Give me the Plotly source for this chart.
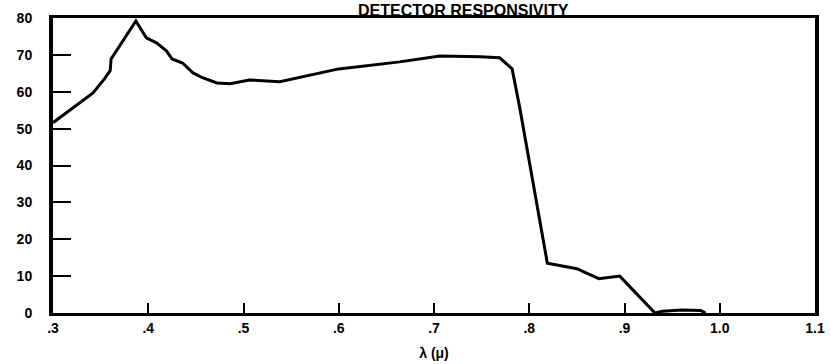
import plotly.graph_objects as go

# Detector responsivity versus wavelength (microns)
wavelength = [0.300, 0.342, 0.354, 0.360, 0.361, 0.387, 0.398, 0.409, 0.419, 0.425,
              0.436, 0.447, 0.457, 0.472, 0.486, 0.506, 0.538, 0.600, 0.664, 0.706,
              0.748, 0.769, 0.782, 0.790, 0.819, 0.830, 0.850, 0.873, 0.895, 0.932,
              0.940, 0.960, 0.980, 0.985]
responsivity = [51.6, 59.7, 63.5, 65.7, 68.9, 79.2, 74.6, 73.2, 71.1, 68.9,
                67.8, 65.1, 63.8, 62.4, 62.2, 63.2, 62.7, 66.2, 68.1, 69.7,
                69.5, 69.2, 66.2, 55.7, 13.5, 13.0, 12.0, 9.3, 10.0, 0.0,
                0.5, 0.8, 0.7, 0.0]

x_ticks = [0.3, 0.4, 0.5, 0.6, 0.7, 0.8, 0.9, 1.0, 1.1]
x_tick_labels = [".3", ".4", ".5", ".6", ".7", ".8", ".9", "1.0", "1.1"]
y_ticks = [0, 10, 20, 30, 40, 50, 60, 70, 80]
y_tick_labels = ["0", "10", "20", "30", "40", "50", "60", "70", "80"]

font_family = "Liberation Sans, Arial, sans-serif"

fig = go.Figure()
fig.add_trace(go.Scatter(
    x=wavelength, y=responsivity, mode="lines",
    line=dict(color="black", width=3), hoverinfo="skip", showlegend=False,
))

fig.update_layout(
    width=831, height=364,
    margin=dict(l=53, r=16, t=18, b=51),
    paper_bgcolor="white", plot_bgcolor="white",
    font=dict(family=font_family, color="black"),
    annotations=[dict(
        text="<b>DETECTOR RESPONSIVITY</b>",
        xref="paper", yref="paper", x=0.539, y=1,
        xanchor="center", yanchor="middle", yshift=7.5,
        showarrow=False, font=dict(size=16, family=font_family, color="black"),
    )],
)

fig.update_xaxes(
    range=[0.3, 1.1], tickvals=x_ticks, ticktext=x_tick_labels,
    ticks="inside", ticklen=10, tickwidth=2, tickcolor="black",
    showline=True, linewidth=3, linecolor="black", mirror=True,
    showgrid=False, zeroline=False, automargin=False,
    tickfont=dict(size=14, family=font_family, weight="bold"),
    title=dict(text="λ (μ)", font=dict(size=14, family=font_family, weight="bold"), standoff=14),
)
fig.update_yaxes(
    range=[0, 80], tickvals=y_ticks, ticktext=y_tick_labels,
    ticks="inside", ticklen=18, tickwidth=2, tickcolor="black",
    showline=True, linewidth=4, linecolor="black", mirror=True,
    showgrid=False, zeroline=False, automargin=False,
    tickfont=dict(size=14, family=font_family, weight="bold"),
    ticklabelstandoff=14,
)

fig.write_html("out.html")
